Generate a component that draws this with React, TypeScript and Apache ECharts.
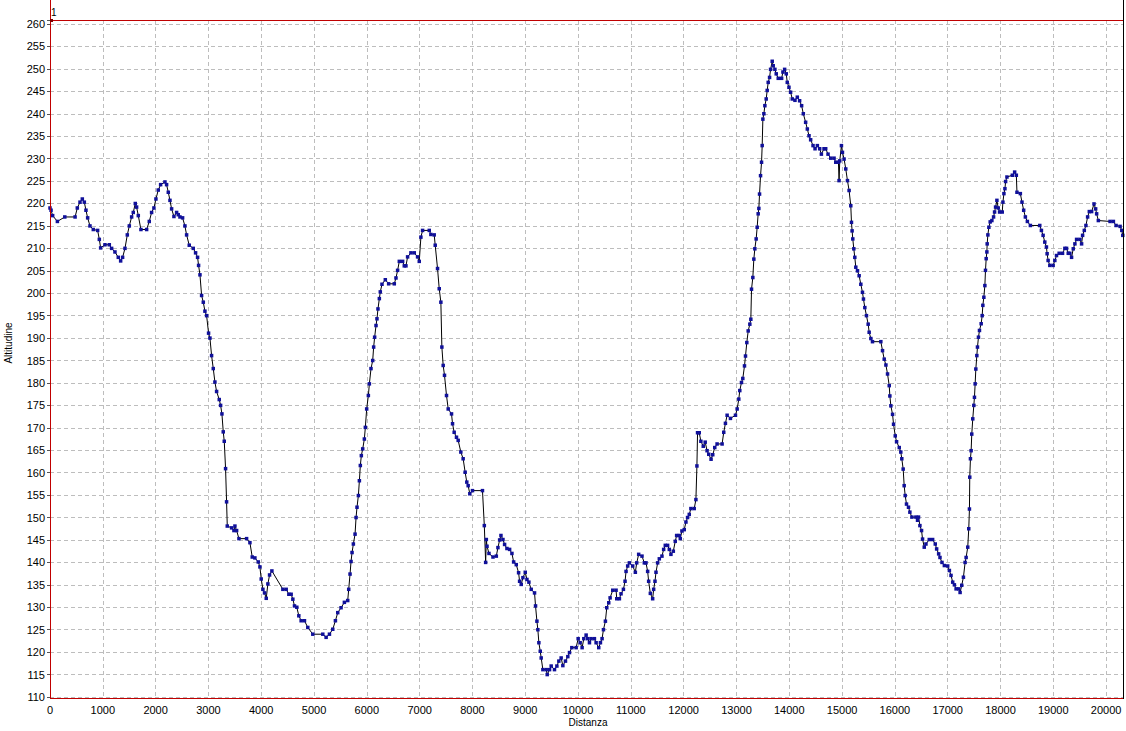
import React, { useEffect, useRef } from "react";
import * as echarts from "echarts";

// Distance (m), altitude (m) pairs
const segmentA: [number, number][] = [
  [0, 219], [20, 218.5], [50, 217.3], [140, 216], [280, 217], [475, 217], [517, 219], [568, 220.3], [612, 221],
  [650, 220.3], [681, 218.5], [713, 216.8], [757, 215], [820, 214.2], [902, 214], [934, 212], [959, 210.1],
  [1041, 210.8], [1123, 210.8], [1167, 210], [1230, 209.2], [1293, 208], [1338, 207.2], [1375, 208], [1420, 210],
  [1464, 213], [1502, 215], [1546, 217], [1577, 218], [1615, 220], [1640, 219.2], [1672, 217.3], [1722, 214.2],
  [1830, 214.2], [1880, 216], [1924, 218], [1968, 219], [2006, 221], [2050, 223], [2095, 224.2], [2177, 224.8],
  [2208, 224.2], [2240, 222.5], [2272, 220.7], [2303, 218.8], [2347, 217.1], [2398, 218], [2429, 217.5],
  [2461, 217], [2511, 216.8], [2555, 215], [2587, 213], [2637, 210.7], [2713, 210], [2757, 209], [2795, 208],
  [2814, 206.2], [2840, 204.1], [2871, 199.5], [2903, 198], [2934, 196], [2966, 195], [3003, 191.1], [3029, 190],
  [3060, 186.1], [3092, 183.2], [3123, 180.2], [3155, 178.1], [3205, 176.3], [3231, 175], [3256, 173.1],
  [3281, 169.1], [3300, 167], [3325, 160.9], [3344, 153.5], [3357, 148.1], [3439, 147.7], [3483, 147.1],
  [3502, 148.1], [3534, 147.1], [3578, 145.3], [3723, 145.3], [3786, 144.4], [3830, 141.2], [3880, 141],
  [3944, 140.1], [3975, 139],
];

const segmentB: [number, number][] = [
  [4000, 136.3], [4032, 134], [4063, 133.2], [4095, 132], [4126, 135.2], [4158, 137.2], [4202, 138.1],
  [4410, 134], [4473, 134], [4523, 132.9], [4567, 132.9], [4599, 131.8], [4630, 130.3], [4674, 130],
  [4712, 128.1], [4756, 127], [4819, 127], [4882, 125.5], [4977, 124], [5166, 124], [5229, 123.3], [5292, 124],
  [5355, 125.1], [5405, 127], [5449, 128.8], [5512, 129.9], [5575, 131.1], [5638, 131.5], [5657, 134],
  [5682, 137.4], [5701, 140.2], [5720, 142.2], [5745, 144.1], [5777, 146.3], [5796, 150], [5814, 152.3],
  [5840, 154.9], [5859, 158.2], [5877, 161.6], [5896, 163.8], [5922, 165.3], [5953, 167.5], [5972, 170.1],
  [5997, 174.2], [6029, 177.2], [6048, 179.8], [6079, 183.2], [6111, 185], [6129, 188], [6148, 190.2],
  [6174, 192.8], [6192, 194.3], [6211, 196.5], [6237, 198.8], [6255, 200.3], [6287, 202], [6350, 203],
  [6413, 202.1], [6520, 202.1], [6552, 203.4], [6583, 205.1], [6615, 207.1], [6678, 207.1], [6709, 206.1],
  [6741, 206.1], [6772, 208.1], [6835, 209], [6898, 209], [6961, 208.1], [6993, 207.1], [7024, 212.5],
  [7056, 214], [7182, 214], [7213, 213.1], [7276, 213], [7295, 210.7], [7339, 205.5], [7371, 201], [7402, 198],
  [7421, 188], [7446, 183.9], [7471, 181.7], [7509, 177.2], [7541, 174.2], [7604, 173.1], [7623, 170.9],
  [7654, 169], [7698, 167.9], [7730, 167.2], [7780, 164.6], [7824, 163.1], [7862, 160.1], [7893, 157.9],
  [7919, 157.1], [7950, 155.3], [8001, 156], [8190, 156], [8225, 148.2], [8250, 140],
];

const segmentC: [number, number][] = [
  [8263, 145.1], [8276, 143.6], [8313, 142], [8389, 141.2], [8452, 141.4], [8483, 143.3], [8515, 145],
  [8540, 146], [8578, 145.1], [8609, 144], [8653, 143.1], [8704, 142.9], [8748, 142], [8780, 140.1],
  [8830, 139.5], [8874, 137.7], [8893, 135.8], [8924, 135.1], [8956, 136.6], [9000, 137.8], [9032, 136.2],
  [9069, 135.6], [9113, 134], [9176, 133.2], [9195, 130.3], [9221, 126.9], [9239, 125], [9258, 122.1],
  [9284, 120.2], [9302, 118.7], [9334, 116.1], [9397, 116.1], [9416, 115], [9460, 116.1], [9491, 116.9],
  [9554, 116.1], [9599, 116.9], [9636, 118], [9680, 118.7], [9712, 117], [9762, 118], [9806, 119],
  [9838, 119.9], [9882, 121], [9964, 121], [10002, 123], [10040, 122.1], [10077, 121], [10109, 123],
  [10153, 123.8], [10184, 123], [10216, 122.1], [10247, 123], [10310, 123], [10342, 122.1], [10392, 121],
  [10424, 122.1], [10455, 123], [10481, 125], [10518, 126.9], [10544, 129.9], [10581, 131], [10607, 132.1],
  [10657, 133.8], [10720, 133.8], [10733, 131.9], [10783, 131.9], [10814, 133], [10859, 134], [10890, 135.8],
  [10909, 138], [10940, 139.2], [10972, 139.9], [11035, 139.2], [11085, 137.8], [11111, 139.9], [11148, 141.8],
  [11211, 141.4], [11255, 139.9], [11287, 139.9], [11318, 138], [11337, 135.8], [11369, 133.1], [11413, 131.9],
  [11432, 134], [11457, 135.8], [11476, 137.8], [11507, 139.9], [11539, 140.8], [11589, 141.4], [11621, 142.9],
  [11652, 143.8], [11696, 143.8], [11728, 142.9], [11759, 141.8], [11804, 142.5], [11841, 144.7], [11867, 146],
  [11917, 146], [11936, 145.3], [11967, 147], [12011, 147.3], [12043, 149], [12074, 150], [12106, 150.7],
  [12137, 152], [12200, 152], [12232, 154], [12251, 161.5], [12263, 168.9], [12295, 168.9], [12326, 167],
  [12371, 165.9], [12408, 166.8],
];

const segmentD: [number, number][] = [
  [12443, 164.9], [12475, 164.1], [12519, 163], [12551, 164], [12589, 165.6], [12633, 166.4], [12728, 166.4],
  [12759, 169], [12791, 171], [12823, 172.8], [12886, 172.1], [12981, 172.8], [13013, 174.2], [13044, 176.4],
  [13063, 178.3], [13095, 180.1], [13120, 181], [13152, 183.8], [13171, 186], [13196, 189], [13222, 191.6],
  [13253, 193.1], [13272, 194.2], [13285, 200.9], [13310, 203.5], [13329, 207.6], [13348, 209.9],
  [13373, 212.1], [13392, 214.7], [13411, 217.7], [13424, 218.9], [13437, 222.1], [13456, 226.2],
  [13475, 229.2], [13487, 232.9], [13500, 238.8], [13519, 240], [13538, 241.8], [13563, 243.3], [13582, 245.2],
  [13601, 247], [13627, 248.1], [13646, 249.9], [13677, 251.7], [13696, 250.7], [13728, 249.9], [13753, 248.9],
  [13791, 247.9], [13855, 247.9], [13880, 249.3], [13912, 249.9], [13943, 248.9], [13962, 247], [13994, 245.9],
  [14025, 244.8], [14057, 243.3], [14108, 243], [14152, 243.7], [14196, 242.9], [14234, 241.8], [14266, 240],
  [14310, 238.1], [14342, 236.6], [14374, 235.1], [14405, 234.2], [14450, 232.9], [14488, 232.2],
  [14532, 232.9], [14576, 232.2], [14608, 231], [14658, 232.2], [14690, 232.2], [14734, 231], [14785, 230.1],
  [14848, 230.1], [14880, 229.2], [14931, 229.2], [14943, 225.1], [14956, 229.5], [14988, 232.9],
  [15007, 231.4], [15038, 229.9], [15070, 227.7], [15102, 225.1], [15133, 222.9], [15165, 219.5],
  [15178, 215.8], [15190, 213.9], [15203, 212.1], [15222, 209.9], [15241, 208], [15260, 205.8], [15292, 205],
  [15323, 203.9], [15355, 202], [15386, 200.2], [15405, 198.7], [15431, 196.8], [15462, 195], [15494, 193.1],
  [15513, 191.3], [15545, 189.9], [15576, 189.2], [15734, 189.2], [15766, 187.2], [15798, 185.3], [15830, 184],
  [15861, 182], [15893, 179.4], [15905, 177.1], [15924, 174.9], [15956, 173], [15975, 170.8], [16007, 168.2],
  [16032, 166.9], [16083, 165.6],
];

const segmentE: [number, number][] = [
  [16112, 164.6], [16131, 163.1], [16157, 160.8], [16176, 157.1], [16195, 154.9], [16220, 153], [16258, 152.3],
  [16284, 151.2], [16322, 150.1], [16398, 150.1], [16429, 149.4], [16448, 150.1], [16474, 148.2],
  [16505, 147.1], [16524, 145.2], [16556, 143.4], [16588, 144.1], [16651, 145.1], [16715, 145.1],
  [16765, 144.1], [16791, 143], [16829, 141.9], [16854, 141.1], [16892, 140], [16937, 139.3], [17000, 139.2],
  [17032, 138.2], [17063, 137.1], [17095, 135.6], [17127, 135], [17159, 134.1], [17209, 134.1], [17235, 133.3],
  [17266, 134.9], [17298, 136.7], [17330, 140], [17349, 141.1], [17380, 143.4], [17399, 147.5], [17412, 151.9],
  [17418, 159], [17431, 163.1], [17444, 164.9], [17456, 168.6], [17475, 172], [17495, 175], [17507, 176.8],
  [17520, 179.8], [17533, 183.1], [17552, 186.1], [17564, 188], [17583, 190.2], [17602, 191.7], [17634, 193.2],
  [17653, 195], [17666, 197.3], [17685, 199.1], [17704, 201.7], [17716, 205.1], [17729, 207.7], [17742, 209.2],
  [17748, 211], [17761, 213], [17780, 214.7], [17805, 215.9], [17837, 216.2], [17869, 217], [17888, 218.1],
  [17907, 219.2], [17932, 220.7], [17957, 219], [17983, 218.1], [18033, 218.1], [18046, 220.3], [18065, 222.2],
  [18084, 223.3], [18097, 224.9], [18122, 225.9], [18224, 226.3], [18268, 227], [18300, 226.3], [18312, 222.5],
  [18376, 222.2], [18407, 220.3], [18439, 218.5], [18471, 217], [18509, 216], [18566, 215.1], [18744, 215.1],
  [18775, 214], [18807, 212.9], [18839, 211.4], [18870, 210.3], [18883, 208.8], [18902, 207.3], [18934, 206.2],
  [18997, 206.2], [19029, 207.3], [19061, 208.4], [19111, 208.9], [19175, 208.9], [19219, 210], [19251, 210],
  [19283, 208.9], [19314, 208.9], [19346, 208], [19378, 209.9], [19409, 211], [19441, 212], [19504, 212],
  [19536, 211], [19555, 212.9], [19587, 214], [19618, 215.1], [19650, 217], [19682, 218.2], [19726, 218.2],
  [19771, 219.9], [19802, 218.8], [19821, 217.7], [19853, 216.2], [20075, 216], [20138, 216], [20189, 215.1],
  [20265, 214.9], [20297, 214], [20316, 212.9],
];

const profile = [...segmentA, ...segmentB, ...segmentC, ...segmentD, ...segmentE];

const xMin = 0;
const xMax = 20320;
const xInterval = 1000;
const yMin = 110;
const yMax = 260.9;
const yInterval = 5;
const xTitle = "Distanza";
const yTitle = "Altitudine";

const FONT = "'Liberation Sans', Arial, sans-serif";

export default function App() {
  const ref = useRef<HTMLDivElement>(null);
  useEffect(() => {
    const chart = echarts.init(ref.current!, null, { renderer: "svg" });
    chart.setOption({
      animation: false,
      backgroundColor: "#ffffff",
      grid: { left: 50, right: 3, top: 20, bottom: 34, containLabel: false },
      xAxis: {
        type: "value",
        min: xMin,
        max: xMax,
        interval: xInterval,
        axisLine: { show: false },
        axisTick: { show: false },
        axisLabel: {
          color: "#000",
          fontSize: 11,
          fontFamily: FONT,
          margin: 7,
          formatter: (v: number) => (v % 1000 === 0 ? String(v) : ""),
        },
        splitLine: { show: true, lineStyle: { color: "#bdbdbd", type: [4, 3], width: 1 } },
      },
      yAxis: {
        type: "value",
        min: yMin,
        max: yMax,
        interval: yInterval,
        axisLine: { show: false },
        axisTick: { show: true, length: 3, lineStyle: { color: "#555" } },
        axisLabel: {
          color: "#000",
          fontSize: 11,
          fontFamily: FONT,
          margin: 5,
          formatter: (v: number) => (Math.abs(v % 5) < 1e-6 ? String(v) : ""),
        },
        splitLine: { show: true, lineStyle: { color: "#bdbdbd", type: [4, 3], width: 1 } },
      },
      series: [
        {
          type: "line",
          data: profile,
          showSymbol: true,
          symbol: "rect",
          symbolSize: 3.5,
          itemStyle: { color: "#10109a" },
          lineStyle: { color: "#000000", width: 1 },
          z: 3,
        },
      ],
      graphic: [
        { type: "line", shape: { x1: 50.5, y1: 0, x2: 50.5, y2: 699 }, style: { stroke: "#c00000", lineWidth: 1 }, z: 10 },
        { type: "line", shape: { x1: 50, y1: 20.5, x2: 1123, y2: 20.5 }, style: { stroke: "#c00000", lineWidth: 1 }, z: 10 },
        { type: "line", shape: { x1: 50, y1: 698.5, x2: 1123, y2: 698.5 }, style: { stroke: "#c00000", lineWidth: 1 }, z: 10 },
        { type: "line", shape: { x1: 1123.5, y1: 0, x2: 1123.5, y2: 699 }, style: { stroke: "#000000", lineWidth: 1 }, z: 10 },
        { type: "rect", shape: { x: 50, y: 19, width: 3, height: 3 }, style: { fill: "#800000" }, z: 11 },
        { type: "text", x: 51, y: 7, style: { text: "1", fontSize: 10, fontFamily: FONT, fill: "#000" }, z: 11 },
        {
          type: "text",
          x: 8,
          y: 343,
          rotation: Math.PI / 2,
          style: { text: yTitle, fontSize: 10, fontFamily: FONT, fill: "#000", align: "center", verticalAlign: "middle" },
        },
        {
          type: "text",
          x: 588,
          y: 722,
          style: { text: xTitle, fontSize: 10, fontFamily: FONT, fill: "#000", align: "center", verticalAlign: "middle" },
        },
      ],
    });
    return () => chart.dispose();
  }, []);
  return (
    <div
      ref={ref}
      style={{ position: "fixed", left: 0, top: 0, width: 1126, height: 731, background: "#fff" }}
    />
  );
}
